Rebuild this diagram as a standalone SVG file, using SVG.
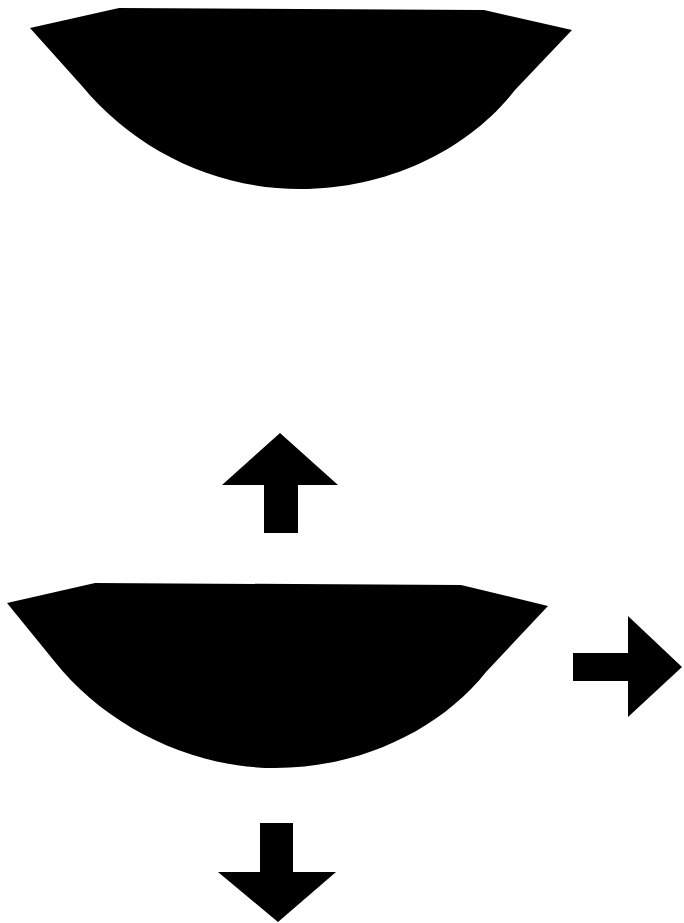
<svg xmlns="http://www.w3.org/2000/svg" width="684" height="923" viewBox="0 0 684 923">
<style>.s{fill:#000;stroke:none}</style>
<rect width="684" height="923" fill="#fff"/>
<g id="bowl-top"><path class="s" d="M30,28 L119,8 L484,10 L572,30 L515,90 C470,148 390,189 300,189 C215,189 135,150 82,86 Z"/></g>
<g id="bowl-bottom"><path class="s" d="M7,603 L95,583 L461,585 L548,606 L486,672 C440,730 360,768 275,768 C190,768 105,725 55,662 Z"/></g>
<g id="connectors">
<path id="arrow-up" class="s" d="M280,433 L338,485 L298,485 L298,533 L264,533 L264,485 L222,485 Z"/>
<path id="arrow-right" class="s" d="M682,667 L628,717 L628,681 L573,681 L573,653 L628,653 L628,616 Z"/>
<path id="arrow-down" class="s" d="M278,922 L336,872 L293,872 L293,823 L260,823 L260,872 L218,872 Z"/>
</g>
</svg>
